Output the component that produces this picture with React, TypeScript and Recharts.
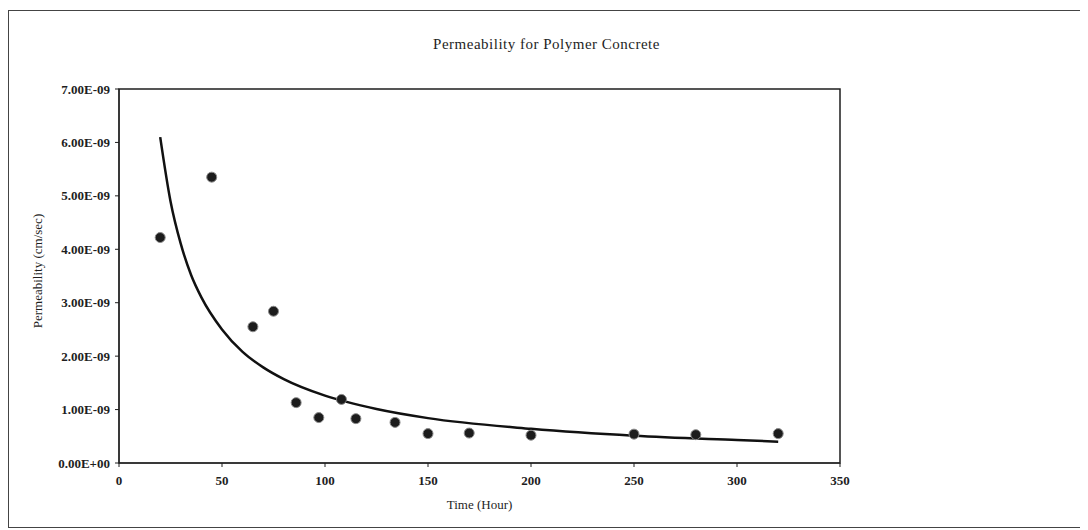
import React from 'react';
import {
    ComposedChart, Line, Scatter, XAxis, YAxis, ReferenceArea, Label
} from 'recharts';

// measured points
const timeHours = [20, 45, 65, 75, 86, 97, 108, 115, 134, 150, 170, 200, 250, 280, 320];
const permeability = [
    4.22e-9, 5.35e-9, 2.55e-9, 2.84e-9, 1.13e-9, 0.85e-9, 1.19e-9, 0.83e-9,
    0.76e-9, 0.55e-9, 0.56e-9, 0.52e-9, 0.54e-9, 0.53e-9, 0.55e-9
];

// trend curve
const trendHours = [20, 25, 30, 35, 40, 50, 60, 70, 80, 100, 125, 150, 200, 250, 300, 320];
const trendValues = [
    6.1e-9, 4.9e-9, 4.1e-9, 3.52e-9, 3.1e-9, 2.5e-9, 2.08e-9, 1.79e-9, 1.57e-9,
    1.26e-9, 1.01e-9, 0.84e-9, 0.64e-9, 0.51e-9, 0.43e-9, 0.40e-9
];

const xTicks = [0, 50, 100, 150, 200, 250, 300, 350];
const yTicks = [0, 1e-9, 2e-9, 3e-9, 4e-9, 5e-9, 6e-9, 7e-9];

const title = 'Permeability for Polymer Concrete';
const xLabel = 'Time (Hour)';
const yLabel = 'Permeability (cm/sec)';

const points = timeHours.map((x, i) => ({ x, y: permeability[i] }));
const trend = trendHours.map((x, i) => ({ x, y: trendValues[i] }));

const FONT = '"Liberation Serif", "Times New Roman", serif';
const INK = '#1e1e1e';

const fmtSci = (v: number) => {
    if (v === 0) return '0.00E+00';
    const [m, e] = v.toExponential(2).split('e');
    const n = parseInt(e, 10);
    const sign = n < 0 ? '-' : '+';
    return `${m}E${sign}${String(Math.abs(n)).padStart(2, '0')}`;
};

const Dot = (props: any) => {
    const { cx, cy } = props;
    if (cx == null || cy == null) return null;
    return <circle cx={cx} cy={cy} r={5} fill="#1c1c1c" stroke="#8a8a8a" strokeWidth={1} />;
};

export default function App() {
    return (
        <div
            style={{
                width: 1075,
                height: 516,
                marginTop: 2,
                border: '1px solid #444',
                position: 'relative',
                fontFamily: FONT,
            }}
        >
            <div
                style={{
                    position: 'absolute',
                    top: 25,
                    left: 0,
                    width: '100%',
                    textAlign: 'center',
                    fontSize: 15,
                    color: INK,
                    letterSpacing: 0.5,
                }}
            >
                {title}
            </div>
            <ComposedChart
                width={1075}
                height={516}
                margin={{ top: 78, right: 244, left: 0, bottom: 0 }}
            >
                <XAxis
                    type="number"
                    dataKey="x"
                    domain={[0, 350]}
                    ticks={xTicks}
                    allowDataOverflow
                    height={64}
                    stroke={INK}
                    tickSize={4}
                    tickMargin={9}
                    tick={{ fill: INK, fontSize: 13, fontFamily: FONT, fontWeight: 'bold' }}
                >
                    <Label
                        content={({ viewBox }: any) => (
                            <text
                                x={viewBox.x + viewBox.width / 2}
                                y={viewBox.y + 46}
                                textAnchor="middle"
                                fill={INK}
                                fontSize={13}
                                fontFamily={FONT}
                            >
                                {xLabel}
                            </text>
                        )}
                    />
                </XAxis>
                <YAxis
                    type="number"
                    dataKey="y"
                    domain={[0, 7e-9]}
                    ticks={yTicks}
                    allowDataOverflow
                    width={110}
                    stroke={INK}
                    tickSize={4}
                    tickMargin={5}
                    tickFormatter={fmtSci}
                    tick={{ fill: INK, fontSize: 13, fontFamily: FONT, fontWeight: 'bold' }}
                >
                    <Label
                        content={({ viewBox }: any) => {
                            const cx = viewBox.x + 28;
                            const cy = viewBox.y + viewBox.height / 2 - 5;
                            return (
                                <text
                                    x={cx}
                                    y={cy}
                                    transform={`rotate(-90, ${cx}, ${cy})`}
                                    textAnchor="middle"
                                    dominantBaseline="central"
                                    fill={INK}
                                    fontSize={13}
                                    fontFamily={FONT}
                                >
                                    {yLabel}
                                </text>
                            );
                        }}
                    />
                </YAxis>
                <ReferenceArea x1={0} x2={350} y1={0} y2={7e-9} fill="none" stroke={INK} strokeWidth={1.5} />
                <Line
                    data={trend}
                    dataKey="y"
                    type="monotone"
                    stroke="#111"
                    strokeWidth={2.5}
                    dot={false}
                    activeDot={false}
                    isAnimationActive={false}
                />
                <Scatter data={points} dataKey="y" shape={<Dot />} isAnimationActive={false} />
            </ComposedChart>
        </div>
    );
}
